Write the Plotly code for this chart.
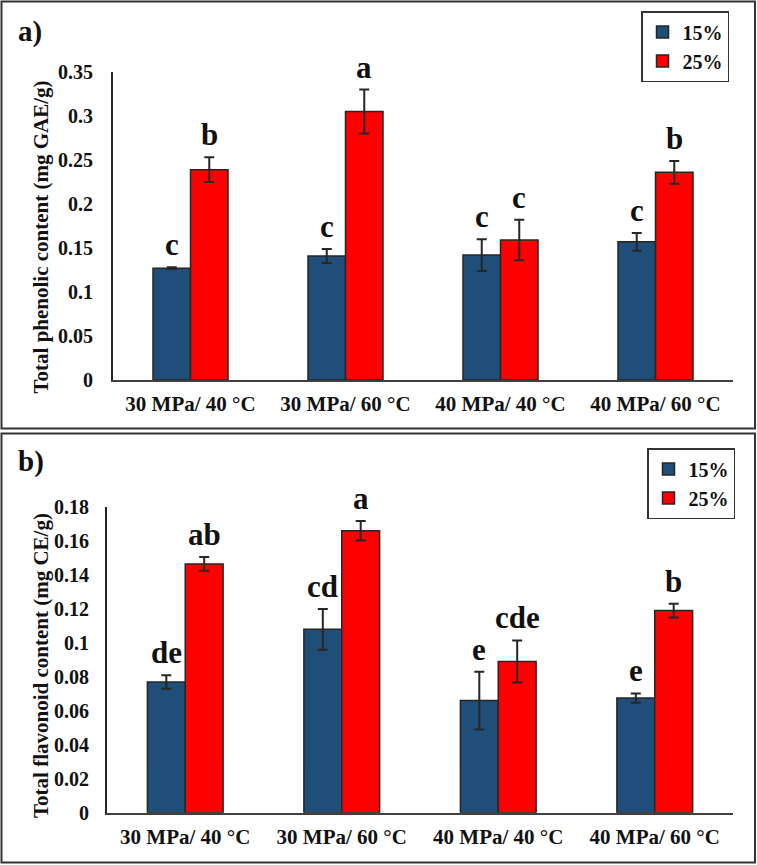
import plotly.graph_objects as go

W, H = 757, 865

# ---------------- data ----------------
categories = ["30 MPa/ 40 °C", "30 MPa/ 60 °C", "40 MPa/ 40 °C", "40 MPa/ 60 °C"]
series_names = ["15%", "25%"]

tpc_15 = [0.127, 0.141, 0.142, 0.157]
tpc_15_err = [0.001, 0.008, 0.018, 0.010]
tpc_25 = [0.239, 0.305, 0.159, 0.236]
tpc_25_err = [0.014, 0.025, 0.023, 0.013]
tpc_letters_15 = ["c", "c", "c", "c"]
tpc_letters_25 = ["b", "a", "c", "b"]

tfc_15 = [0.077, 0.108, 0.066, 0.0675]
tfc_15_err = [0.004, 0.012, 0.017, 0.0027]
tfc_25 = [0.1465, 0.166, 0.089, 0.119]
tfc_25_err = [0.004, 0.0057, 0.0124, 0.004]
tfc_letters_15 = ["de", "cd", "e", "e"]
tfc_letters_25 = ["ab", "a", "cde", "b"]

tpc_tickvals = [0, 0.05, 0.1, 0.15, 0.2, 0.25, 0.3, 0.35]
tpc_ticktext = ["0", "0.05", "0.1", "0.15", "0.2", "0.25", "0.3", "0.35"]
tfc_tickvals = [0, 0.02, 0.04, 0.06, 0.08, 0.1, 0.12, 0.14, 0.16, 0.18]
tfc_ticktext = ["0", "0.02", "0.04", "0.06", "0.08", "0.1", "0.12", "0.14", "0.16", "0.18"]

tpc_title = "Total phenolic content (mg GAE/g)"
tfc_title = "Total flavonoid content (mg CE/g)"
panel_labels = ["a)", "b)"]

# ---------------- style ----------------
FONT = "Liberation Serif"
COL_15 = "#1F4E79"
COL_25 = "#FF0000"
DARK = "#262626"
TXT = "#111111"
BARGAP = 0.516


def px(x):
    return x / W


def py(y):
    return 1 - y / H


fig = go.Figure()

panels = [
    dict(xa="x", ya="y", vals=[tpc_15, tpc_25], errs=[tpc_15_err, tpc_25_err],
         letters=[tpc_letters_15, tpc_letters_25], legend="legend",
         xdom=(113, 733), ydom=(380, 72)),
    dict(xa="x2", ya="y2", vals=[tfc_15, tfc_25], errs=[tfc_15_err, tfc_25_err],
         letters=[tfc_letters_15, tfc_letters_25], legend="legend2",
         xdom=(107, 733), ydom=(812.7, 507)),
]

annotations = []
for p in panels:
    for i, (name, col) in enumerate(zip(series_names, [COL_15, COL_25])):
        fig.add_trace(go.Bar(
            x=categories, y=p["vals"][i], name="<b>%s</b>" % name,
            xaxis=p["xa"], yaxis=p["ya"], legend=p["legend"],
            marker=dict(color=col, line=dict(color=DARK, width=1.5)),
            error_y=dict(type="data", array=p["errs"][i], visible=True,
                         color=DARK, thickness=2, width=5),
        ))
    cat_w = (p["xdom"][1] - p["xdom"][0]) / len(categories)
    half = cat_w * (1 - BARGAP) / 4
    for i in range(2):
        for j, c in enumerate(categories):
            annotations.append(dict(
                x=c, y=p["vals"][i][j] + p["errs"][i][j],
                xref=p["xa"], yref=p["ya"],
                text="<b>%s</b>" % p["letters"][i][j],
                showarrow=False, yanchor="bottom", xanchor="center",
                xshift=(-half if i == 0 else half), yshift=3,
                font=dict(family=FONT, size=31, color=TXT),
            ))

# y-axis titles and panel labels
for title, yc in [(tpc_title, 237.5), (tfc_title, 666)]:
    annotations.append(dict(
        x=px(41), y=py(yc), xref="paper", yref="paper",
        text="<b>%s</b>" % title, textangle=-90, showarrow=False,
        xanchor="center", yanchor="middle",
        font=dict(family=FONT, size=21, color=TXT),
    ))
for lab, yc in zip(panel_labels, [31, 461]):
    annotations.append(dict(
        x=px(16), y=py(yc), xref="paper", yref="paper",
        text="<b>%s</b>" % lab, showarrow=False,
        xanchor="left", yanchor="middle",
        font=dict(family=FONT, size=29, color=TXT),
    ))

shapes = [
    dict(type="rect", xref="paper", yref="paper",
         x0=px(1.5), x1=px(755), y0=py(428.5), y1=py(1.5),
         line=dict(color="#333333", width=2)),
    dict(type="rect", xref="paper", yref="paper",
         x0=px(1.5), x1=px(755), y0=py(862.5), y1=py(433.5),
         line=dict(color="#333333", width=2)),
]

tickfont_y = dict(family=FONT, size=20, color=TXT)
tickfont_x = dict(family=FONT, size=21, color=TXT)

legend_style = dict(
    bgcolor="white", bordercolor="#333333", borderwidth=1.5,
    font=dict(family=FONT, size=20, color=TXT),
    xanchor="left", yanchor="top", itemwidth=30,
    tracegroupgap=0,
)

common_x = dict(showline=True, linecolor="#404040", linewidth=2,
                showgrid=False, zeroline=False, ticks="", tickfont=tickfont_x,
                ticklabelstandoff=4, tickprefix="<b>", ticksuffix="</b>",
                automargin=False)
common_y = dict(showline=True, linecolor=DARK, linewidth=2,
                showgrid=False, zeroline=False, ticks="",
                tickfont=tickfont_y, automargin=False)

fig.update_layout(
    template="none",
    width=W, height=H,
    margin=dict(l=0, r=0, t=0, b=0, pad=0, autoexpand=False),
    font=dict(family=FONT, color=TXT),
    paper_bgcolor="white", plot_bgcolor="white",
    barmode="group", bargap=BARGAP, bargroupgap=0,
    annotations=annotations, shapes=shapes,
    xaxis=dict(domain=[px(113), px(733)], anchor="y", **common_x),
    yaxis=dict(domain=[py(380), py(72)], anchor="x", range=[0, 0.35],
               tickvals=tpc_tickvals, ticktext=["<b>%s</b>" % t for t in tpc_ticktext],
               ticklabelstandoff=14, **common_y),
    xaxis2=dict(domain=[px(107), px(733)], anchor="y2", **common_x),
    yaxis2=dict(domain=[py(812.7), py(507)], anchor="x2", range=[0, 0.18],
                tickvals=tfc_tickvals, ticktext=["<b>%s</b>" % t for t in tfc_ticktext],
                ticklabelstandoff=12, **common_y),
    legend=dict(x=px(641), y=py(11), **legend_style),
    legend2=dict(x=px(647), y=py(448), **legend_style),
    showlegend=True,
)

fig.write_html(
    "out.html",
    config={"displayModeBar": False},
    post_script="document.body.style.margin='0';document.body.style.padding='0';"
                "document.body.style.overflow='hidden';"
                "document.documentElement.style.overflow='hidden';",
)
